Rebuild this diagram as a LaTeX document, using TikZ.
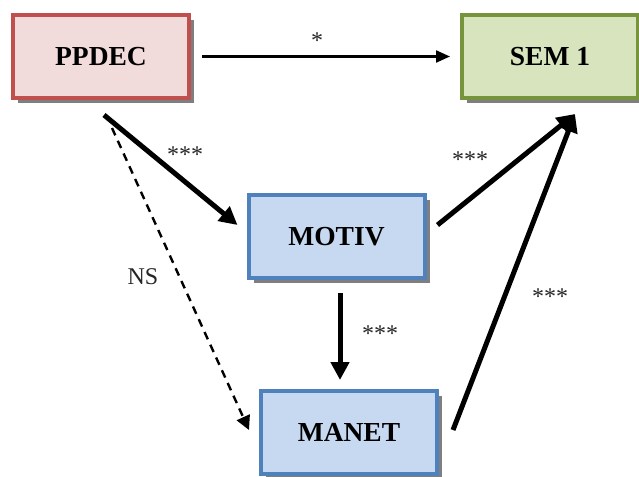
\documentclass[tikz,border=0pt]{standalone}
\usepackage{fontspec}
\setmainfont{Liberation Serif}
\usepackage{tikz}
\usetikzlibrary{arrows.meta, positioning, calc, shadows}
\definecolor{pred}{HTML}{C0504D}
\definecolor{pgreen}{HTML}{77933C}
\definecolor{pblue}{HTML}{4F81BD}
\definecolor{redsoft}{HTML}{F2DCDB}
\definecolor{greensoft}{HTML}{D7E4BD}
\definecolor{bluesoft}{HTML}{C6D9F1}
\definecolor{shade}{HTML}{7F7F7F}
\tikzset{
  >=Latex,
  box/.style={
    draw=#1, line width=4pt, align=center,
    minimum width=176pt, minimum height=83pt,
    font=\fontsize{27.5}{30}\selectfont\bfseries,
    drop shadow={shadow xshift=5pt, shadow yshift=-5pt, fill=shade, opacity=1}
  },
  box/.default=pblue,
  thin arr/.style={-{Triangle[length=14pt, width=12pt]}, line width=2.2pt},
  thick arr/.style={-{Triangle[length=18pt, width=18pt]}, line width=5pt},
  ns arr/.style={-{Triangle[length=14pt, width=14pt]}, line width=2.4pt, dash pattern=on 8pt off 6pt},
  lab/.style={font=\fontsize{24}{26}\selectfont, text=black!85, inner sep=0pt}
}
\begin{document}
\begin{tikzpicture}[x=1pt, y=-1pt]
  \useasboundingbox (0,0) rectangle (639,476);
  \node[box=pred, fill=redsoft] (ppdec) at (101,56.5) {PPDEC};
  \node[box=pgreen, fill=greensoft] (sem) at (550,56.5) {SEM 1};
  \node[box, fill=bluesoft] (motiv) at (336.5,236.5) {MOTIV};
  \node[box, fill=bluesoft] (manet) at (349,432.5) {MANET};

  \draw[thin arr, shorten <=11pt, shorten >=10pt] (ppdec.east) -- (sem.west);
  \draw[thick arr] ([xshift=3pt,yshift=-15pt]ppdec.south) -- ([xshift=-9pt,yshift=11.5pt]motiv.west);
  \draw[ns arr] ([xshift=11pt,yshift=-28pt]ppdec.south) -- ([xshift=-10pt,yshift=2.5pt]manet.west);
  \draw[thick arr] ([xshift=11pt,yshift=11.5pt]motiv.east) -- ([xshift=25pt,yshift=-14pt]sem.south);
  \draw[thick arr] ([xshift=3.5pt,yshift=-13pt]motiv.south) -- ([xshift=-9pt,yshift=9pt]manet.north);
  \draw[thick arr] ([xshift=14pt,yshift=2.5pt]manet.east) -- ([xshift=25pt,yshift=-14pt]sem.south);

  % path labels
  \node[lab] (l1) at (317,41) {*};
  \node[lab] (l2) at (185,155) {***};
  \node[lab] (l3) at (143,277) {NS};
  \node[lab] (l4) at (470,160) {***};
  \node[lab] (l5) at (380,334) {***};
  \node[lab] (l6) at (550,297) {***};
\end{tikzpicture}
\end{document}
